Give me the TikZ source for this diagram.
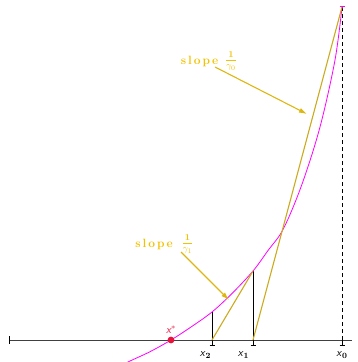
\documentclass[tikz,border=0pt]{standalone}
\usetikzlibrary{arrows.meta,calc}
\definecolor{curvec}{RGB}{255,0,255}
\definecolor{tanc}{RGB}{204,170,30}
\definecolor{labc}{RGB}{242,194,0}
\definecolor{arrc}{RGB}{222,182,16}
\definecolor{starc}{RGB}{230,20,60}
\tikzset{
  axisline/.style={draw=black!75, line width=0.9pt},
  tickmark/.style={draw=black, line width=0.8pt},
  tanline/.style={draw=tanc, line width=1.1pt},
  vline/.style={draw=black, line width=0.9pt},
  curveline/.style={draw=curvec, line width=0.8pt},
  slopelbl/.style={text=labc, font=\bfseries\fontsize{12}{14}\selectfont, inner sep=0pt},
  fraclbl/.style={text=labc, font=\bfseries\fontsize{9.5}{11}\selectfont, inner sep=0pt},
  slopearrow/.style={draw=arrc, line width=1.1pt, -{Latex[length=8pt,width=5pt]}},
  xlbl/.style={font=\sffamily\fontsize{11}{13}\selectfont, inner sep=0pt}
}
\begin{document}
\begin{tikzpicture}[x=1pt,y=-1pt]
\useasboundingbox (0,0) rectangle (358,362);
% key points
\coordinate (L) at (9,340);
\coordinate (R) at (352,340);
\coordinate (x0a) at (342,340);
\coordinate (x1a) at (253,340);
\coordinate (x2a) at (212,340);
\coordinate (P0) at (342,7);
\coordinate (P1) at (253,271);
\coordinate (P2) at (212,312);
\coordinate (T1) at (307,114);
\coordinate (T2) at (229,300);
% axis
\draw[axisline] (L) -- (R);
\draw[tickmark] (9,336) -- (9,344);
\foreach \p in {x0a,x1a,x2a}{
  \draw[tickmark] (\p) -- ++(0,5);
  \draw[tickmark] ($(\p)+(-2.5,5)$) -- ++(5,0);
}
% dashed vertical at x0
\draw[black, line width=0.9pt, dash pattern=on 4pt off 3pt] (x0a) -- (P0);
% verticals
\draw[vline] (x1a) -- (P1);
\draw[vline] (x2a) -- (P2);
% curve
\draw[curveline] plot[smooth, tension=0.55] coordinates {(124,364) (130,361) (150,351.7) (171,340) (191,327) (212,312) (232,293.5) (253,271) (268,250.5) (283.3,229) (301.7,185) (320,127) (335,60) (342,7)};
\draw[curveline] (339.5,6) -- (344.5,6);
% tangent-like lines
\draw[tanline] (P0) -- (x1a);
\draw[tanline] (P1) -- (x2a);
% root
\fill[starc] (171,340) circle (3.4pt);
\node[text=starc, font=\sffamily\itshape\fontsize{11}{13}\selectfont, inner sep=0pt] (xs) at (171,330) {x$^*$};
% labels
\node[xlbl] (lx2) at (205.5,355) {\textit{x}$_{\mathbf{2}}$};
\node[xlbl] (lx1) at (243.5,355) {\textit{x}$_{\mathbf{1}}$};
\node[xlbl] (lx0) at (342,355) {\textit{x}$_{\mathbf{0}}$};
% slope labels
\node[slopelbl, anchor=east] (s0) at (218.5,61) {s\,l\,o\,p\,e};
\node[fraclbl] (f0) at (231,61) {$\displaystyle\frac{\mathbf{1}}{\gamma_0}$};
\node[slopelbl, anchor=east] (s1) at (173,244) {s\,l\,o\,p\,e};
\node[fraclbl] (f1) at (187.5,244) {$\displaystyle\frac{\mathbf{1}}{\gamma_1}$};
\draw[slopearrow] (215,67) -- (T1);
\draw[slopearrow] (181,252) -- (T2);
\end{tikzpicture}
\end{document}
